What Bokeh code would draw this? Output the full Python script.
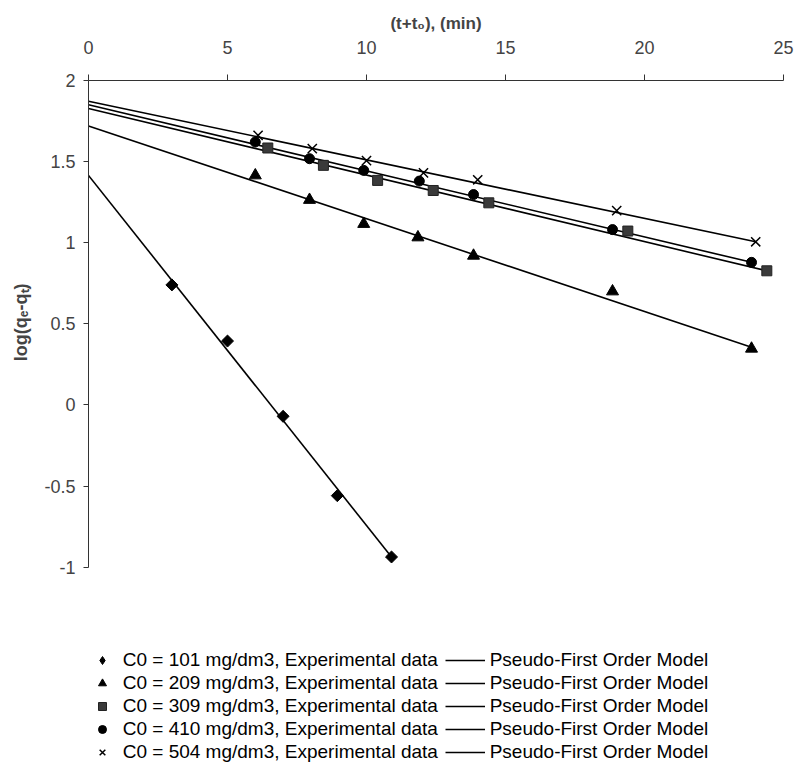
from bokeh.plotting import figure
from bokeh.models import Legend, LegendItem, FixedTicker, Range1d, Title
from bokeh.embed import file_html
from bokeh.resources import INLINE
import numpy as np

# ---------------- data ----------------
concentrations = [101, 209, 309, 410, 504]

t_101 = [3.0, 5.0, 7.0, 8.95, 10.9]
q_101 = [0.74, 0.394, -0.07, -0.559, -0.937]

t_209 = [6.0, 7.95, 9.9, 11.85, 13.85, 18.85, 23.85]
q_209 = [1.415, 1.264, 1.116, 1.033, 0.92, 0.70, 0.347]

t_309 = [6.45, 8.45, 10.4, 12.4, 14.4, 19.4, 24.4]
q_309 = [1.584, 1.477, 1.384, 1.322, 1.246, 1.072, 0.827]

t_410 = [6.0, 7.95, 9.9, 11.9, 13.85, 18.85, 23.85]
q_410 = [1.621, 1.518, 1.446, 1.38, 1.297, 1.081, 0.879]

t_504 = [6.1, 8.05, 10.0, 12.05, 14.0, 19.0, 24.0]
q_504 = [1.662, 1.58, 1.506, 1.431, 1.388, 1.198, 1.006]

# pseudo-first order model lines: log(qe-qt) = intercept + slope * t
model_intercept = [1.415, 1.72, 1.827, 1.85, 1.872]
model_slope = [-0.2158, -0.0572, -0.041, -0.0407, -0.0361]
model_t_end = [10.9, 23.85, 24.4, 23.85, 24.0]

x_ticks = [0, 5, 10, 15, 20, 25]
x_tick_labels = ["0", "5", "10", "15", "20", "25"]
y_ticks = [-1, -0.5, 0, 0.5, 1, 1.5, 2]
y_tick_labels = ["-1", "-0.5", "0", "0.5", "1", "1.5", "2"]

x_title = "(t+t\u2080), (min)"
y_title = "log(q\u2091-q\u209c)"
exp_label = "C0 = {} mg/dm3, Experimental data"
model_label = "Pseudo-First Order Model"

FONT = "Liberation Sans"

# layout: the plotting frame reaches the bottom of the page so that the legend
# (drawn below the data area) is not clipped; the y axis is bounded to [-1, 2].
FRAME_TOP = 80
Y_AXIS_BOTTOM_PX = 566.7
px_per_unit = (Y_AXIS_BOTTOM_PX - FRAME_TOP) / (max(y_ticks) - min(y_ticks))
y_low = max(y_ticks) - (771 - FRAME_TOP) / px_per_unit

p = figure(width=796, height=771, output_backend="svg", toolbar_location=None,
           x_axis_location="above",
           x_range=Range1d(0, 25), y_range=Range1d(y_low, max(y_ticks)),
           min_border_left=87, min_border_right=13,
           min_border_top=FRAME_TOP, min_border_bottom=0)
p.outline_line_color = None
p.xgrid.visible = False
p.ygrid.visible = False
p.background_fill_color = "white"
p.border_fill_color = "white"

xa = p.xaxis[0]
xa.ticker = FixedTicker(ticks=x_ticks)
xa.major_label_overrides = {t: s for t, s in zip(x_ticks, x_tick_labels)}
xa.axis_label = x_title
xa.axis_label_text_font = FONT
xa.axis_label_text_font_style = "bold"
xa.axis_label_text_font_size = "17px"
xa.axis_label_standoff = 5
xa.major_label_text_font = FONT
xa.major_label_text_font_size = "18px"
xa.major_label_standoff = 21
xa.major_tick_out = 6
xa.major_tick_in = 0
xa.minor_tick_out = 0
xa.minor_tick_in = 0
xa.axis_line_color = "#333333"
xa.major_tick_line_color = "#333333"

ya = p.yaxis[0]
ya.ticker = FixedTicker(ticks=y_ticks)
ya.bounds = (min(y_ticks), max(y_ticks))
ya.major_label_overrides = {t: s for t, s in zip(y_ticks, y_tick_labels)}
ya.major_label_text_font = FONT
ya.major_label_text_font_size = "18px"
ya.major_label_standoff = 8
ya.major_tick_out = 5
ya.major_tick_in = 0
ya.minor_tick_out = 0
ya.minor_tick_in = 0
ya.axis_line_color = "#333333"
ya.major_tick_line_color = "#333333"

# y-axis title, centred on the bounded part of the axis
ytitle = Title(text=y_title, align="right", offset=203, vertical_align="middle",
               text_font=FONT, text_font_style="bold", text_font_size="18px",
               standoff=19)
p.add_layout(ytitle, "left")

# ---------------- model lines ----------------
model_renderers = []
for b0, b1, tend in zip(model_intercept, model_slope, model_t_end):
    tt = [0.0, tend]
    yy = [b0 + b1 * t for t in tt]
    r = p.line(tt, yy, line_color="black", line_width=1.6)
    model_renderers.append(r)

# ---------------- experimental points ----------------
# diamond-marker copy of the first series (hidden under the rotated squares);
# it supplies the diamond swatch of the legend
diamond_swatch = p.scatter(t_101, q_101, marker="diamond", size=9,
                           fill_color="black", line_color="black")

exp_renderers = []
exp_renderers.append(p.scatter(t_101, q_101, marker="square", angle=np.pi / 4, size=8.5,
                               fill_color="black", line_color="black"))
exp_renderers.append(p.scatter(t_209, q_209, marker="triangle", size=12,
                               fill_color="black", line_color="black"))
exp_renderers.append(p.scatter(t_309, q_309, marker="square", size=10,
                               fill_color="#3a3a3a", line_color="#222222"))
exp_renderers.append(p.scatter(t_410, q_410, marker="circle", size=10,
                               fill_color="black", line_color="black"))
exp_renderers.append(p.scatter(t_504, q_504, marker="x", size=13,
                               line_color="black", line_width=1.5))

legend_exp_renderers = [diamond_swatch] + exp_renderers[1:]

# ---------------- legends ----------------
common = dict(orientation="vertical", padding=0, margin=0, spacing=1,
              label_height=20, glyph_height=20,
              label_text_font=FONT, label_text_font_size="19px",
              label_text_color="black",
              border_line_color=None, background_fill_alpha=0)

leg_y = 8   # bottom of legend, measured up from the frame bottom
leg1 = Legend(items=[LegendItem(label=exp_label.format(c), renderers=[r])
                     for c, r in zip(concentrations, legend_exp_renderers)],
              location=(3.7, leg_y), glyph_width=20, label_standoff=11, **common)
leg2 = Legend(items=[LegendItem(label=model_label, renderers=[r])
                     for r in model_renderers],
              location=(356.7, leg_y), glyph_width=40, label_standoff=5, **common)
p.add_layout(leg1)
p.add_layout(leg2)

open("out.html", "w").write(file_html(p, INLINE))
